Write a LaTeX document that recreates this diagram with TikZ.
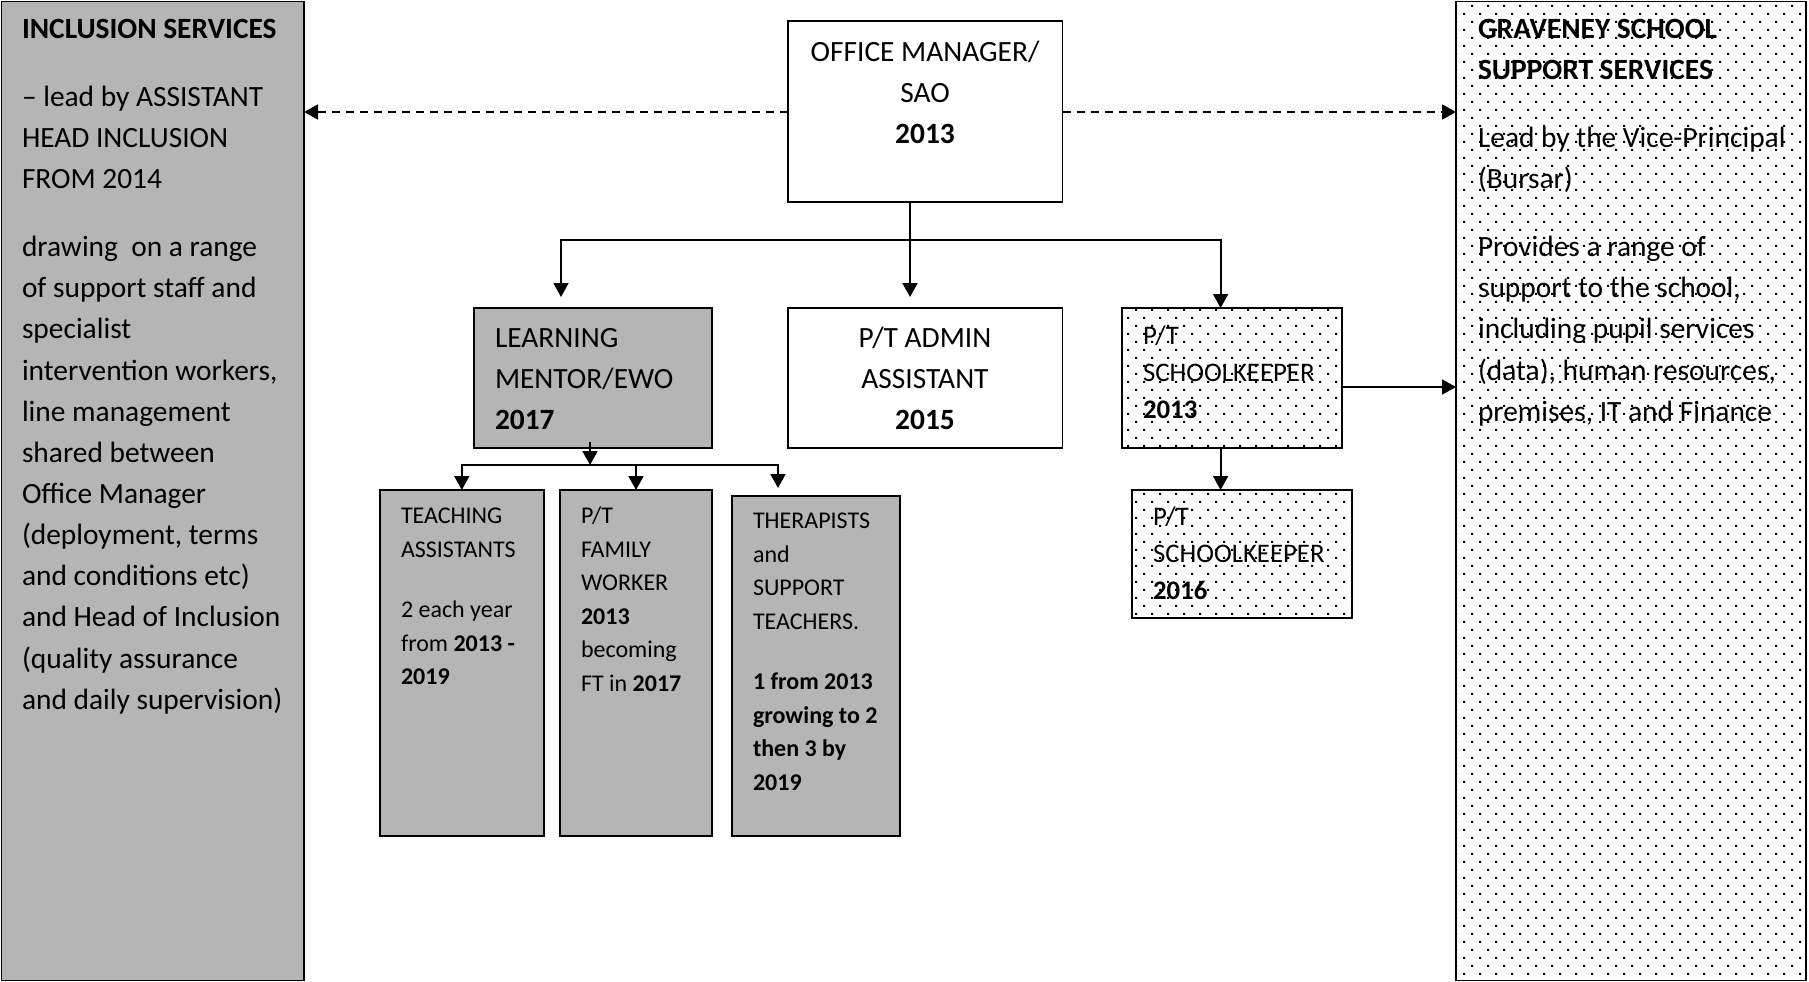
\documentclass[tikz,border=0pt]{standalone}
\usepackage{fontspec}
\setmainfont{Carlito}
\usetikzlibrary{arrows.meta,patterns}
\definecolor{boxgray}{RGB}{181,181,181}
\pgfdeclarepatternformonly{sdots}{\pgfqpoint{-1pt}{-1pt}}{\pgfqpoint{15pt}{15pt}}{\pgfqpoint{16pt}{16pt}}{%
  \pgfpathrectangle{\pgfqpoint{-1pt}{-1pt}}{\pgfqpoint{2pt}{2pt}}%
  \pgfpathrectangle{\pgfqpoint{7pt}{7pt}}{\pgfqpoint{2pt}{2pt}}%
  \pgfusepath{fill}}
\tikzset{
  box/.style={draw, line width=1.8pt, inner sep=0pt, outer sep=0pt, anchor=north west},
  graybox/.style={box, fill=boxgray},
  dotbox/.style={box, pattern=sdots},
  conn/.style={line width=1.8pt},
  arr/.style={conn, -{Triangle[length=14pt,width=15pt]}},
  darr/.style={arr, dash pattern=on 8pt off 6pt},
  txt/.style={inner sep=0pt, outer sep=0pt, align=left, anchor=north west},
  ctxt/.style={inner sep=0pt, outer sep=0pt, align=center, anchor=north},
  bigfont/.style={font=\fontsize{29.4}{41.15}\selectfont},
  skfont/.style={font=\fontsize{26.8}{37}\selectfont},
  smallfont/.style={font=\fontsize{24}{33.5}\selectfont}
}
\begin{document}
\begin{tikzpicture}[x=1pt,y=-1pt]
\useasboundingbox (0,0) rectangle (1809,982);

% boxes
\node[graybox, minimum width=302.5pt, minimum height=979pt] (lb) at (1.5,1.5) {};
\node[dotbox, minimum width=350pt, minimum height=979pt] (rb) at (1456,1.5) {};
\node[box, minimum width=274.5pt, minimum height=181pt] (om) at (788,21) {};
\node[graybox, minimum width=238pt, minimum height=140pt] (lm) at (474,308) {};
\node[box, minimum width=274.5pt, minimum height=140pt] (pa) at (788,308) {};
\node[dotbox, minimum width=220pt, minimum height=140pt] (sk1) at (1122,308) {};
\node[dotbox, minimum width=220pt, minimum height=128pt] (sk2) at (1132,490) {};
\node[graybox, minimum width=164.4pt, minimum height=346pt] (ta) at (379.6,490) {};
\node[graybox, minimum width=152pt, minimum height=346pt] (fw) at (560,490) {};
\node[graybox, minimum width=168.2pt, minimum height=340pt] (th) at (731.8,496) {};

% texts
\node[txt, bigfont] (lbt) at (22,9.2) {\strut\textbf{INCLUSION SERVICES}\\[27pt]
– lead by ASSISTANT\\HEAD INCLUSION\\FROM 2014\\[27pt]
drawing\ \ on a range\\of support staff and\\specialist\\intervention workers,\\line management\\shared between\\Office Manager\\(deployment, terms\\and conditions etc)\\and Head of Inclusion\\(quality assurance\\and daily supervision)};

\node[txt, bigfont] (rbt) at (1478,9.2) {\strut\textbf{GRAVENEY SCHOOL}\\\textbf{SUPPORT SERVICES}\\[27pt]
Lead by the Vice-Principal\\(Bursar)\\[27pt]
Provides a range of\\support to the school,\\including pupil services\\(data), human resources,\\premises, IT and Finance};

\node[ctxt, bigfont] (omt) at (925,32.2) {\strut OFFICE MANAGER/\\SAO\\\textbf{2013}};
\node[ctxt, bigfont] (pat) at (925,318.2) {\strut P/T ADMIN\\ASSISTANT\\\textbf{2015}};
\node[txt, bigfont] (lmt) at (495,318.2) {\strut LEARNING\\MENTOR/EWO\\\textbf{2017}};
\node[txt, skfont] (sk1t) at (1143,318.6) {\strut P/T\\SCHOOLKEEPER\\\textbf{2013}};
\node[txt, skfont] (sk2t) at (1153,500) {\strut P/T\\SCHOOLKEEPER\\\textbf{2016}};

\node[txt, smallfont] (tat) at (401,500.5) {\strut TEACHING\\ASSISTANTS\\[27pt]2 each year\\from \textbf{2013 -}\\\textbf{2019}};
\node[txt, smallfont] (fwt) at (581,500.5) {\strut P/T\\FAMILY\\WORKER\\\textbf{2013}\\becoming\\FT in \textbf{2017}};
\node[txt, smallfont] (tht) at (753,505.5) {\strut THERAPISTS\\and\\SUPPORT\\TEACHERS.\\[27pt]\textbf{1 from 2013}\\\textbf{growing to 2}\\\textbf{then 3 by}\\\textbf{2019}};

% connectors
\coordinate (dl) at (0,112);
\draw[darr] (om.west |- dl) -- (lb.east |- dl);
\draw[darr] (om.east |- dl) -- (rb.west |- dl);

\coordinate (bar) at (910,240);
\coordinate (tL) at (561,297);
\coordinate (tA) at (910,297);
\coordinate (tS) at (1220.6,308);
\draw[arr] (om.south -| bar) -- (tA);
\draw[arr] (bar) -| (tL);
\draw[arr] (bar) -| (sk1.north -| tS);

\coordinate (ar) at (0,387);
\draw[arr] (sk1.east |- ar) -- (rb.west |- ar);
\draw[arr] (sk1.south -| tS) -- (sk2.north -| tS);

\coordinate (lstart) at (590,442);
\coordinate (lbar) at (590,465);
\coordinate (tT) at (778,488);
\draw[arr] (lstart) -- (lbar);
\draw[arr] (lbar) -| (ta.north);
\draw[arr] (lbar) -| (fw.north);
\draw[arr] (lbar) -| (tT);
\end{tikzpicture}
\end{document}
